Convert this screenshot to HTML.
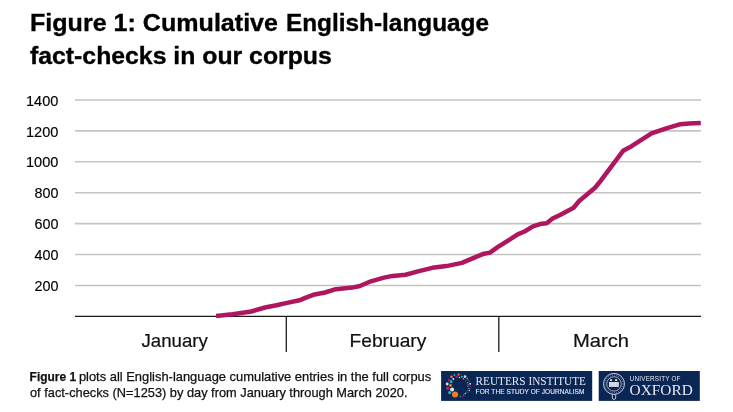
<!DOCTYPE html>
<html><head><meta charset="utf-8">
<style>
html,body{margin:0;padding:0;background:#fff;width:733px;height:412px;overflow:hidden}
svg{display:block;will-change:transform}
text{font-family:"Liberation Sans",sans-serif}
</style></head>
<body>
<svg width="733" height="412" viewBox="0 0 733 412">
<rect width="733" height="412" fill="#fff"/>
<!-- title -->
<g fill="#000" stroke="#000" stroke-width="0.35" style="font-weight:bold;font-size:24.8px">
<text x="30" y="31" textLength="248" lengthAdjust="spacingAndGlyphs">Figure 1: Cumulative</text>
<text x="286" y="31" textLength="203" lengthAdjust="spacingAndGlyphs">English-language</text>
<text x="30" y="63.5">fact-checks in our corpus</text>
</g>
<!-- gridlines -->
<g stroke="#c4c4c4" stroke-width="1.6">
<line x1="75" x2="701" y1="100" y2="100"/>
<line x1="75" x2="701" y1="130.9" y2="130.9"/>
<line x1="75" x2="701" y1="161.8" y2="161.8"/>
<line x1="75" x2="701" y1="192.7" y2="192.7"/>
<line x1="75" x2="701" y1="223.6" y2="223.6"/>
<line x1="75" x2="701" y1="254.5" y2="254.5"/>
<line x1="75" x2="701" y1="285.5" y2="285.5"/>
</g>
<g fill="#000" stroke="#000" stroke-width="0.15" style="font-size:15.3px" text-anchor="end">
<text x="58.4" y="105.6" textLength="32.4" lengthAdjust="spacingAndGlyphs">1400</text>
<text x="58.4" y="136.5" textLength="32.4" lengthAdjust="spacingAndGlyphs">1200</text>
<text x="58.4" y="167.4" textLength="32.4" lengthAdjust="spacingAndGlyphs">1000</text>
<text x="58.4" y="198.3" textLength="23.9" lengthAdjust="spacingAndGlyphs">800</text>
<text x="58.4" y="229.2" textLength="23.9" lengthAdjust="spacingAndGlyphs">600</text>
<text x="58.4" y="260.1" textLength="23.9" lengthAdjust="spacingAndGlyphs">400</text>
<text x="58.4" y="291.0" textLength="23.9" lengthAdjust="spacingAndGlyphs">200</text>
</g>
<!-- axis -->
<g stroke="#1a1a1a" stroke-width="1.3">
<line x1="75" x2="701" y1="316.3" y2="316.3"/>
<line x1="286.3" x2="286.3" y1="316" y2="352"/>
<line x1="498.8" x2="498.8" y1="316" y2="352"/>
</g>
<g fill="#111" stroke="#111" stroke-width="0.2" style="font-size:18.5px">
<text x="141.5" y="346.6" textLength="66.4" lengthAdjust="spacingAndGlyphs">January</text>
<text x="349.5" y="346.6" textLength="76.8" lengthAdjust="spacingAndGlyphs">February</text>
<text x="573" y="346.6" textLength="56" lengthAdjust="spacingAndGlyphs">March</text>
</g>
<!-- data line -->
<polyline fill="none" stroke="#ae1760" stroke-width="4.5" stroke-linejoin="round" points="216.1,315.9 232.5,314.3 251.3,311.5 265,307.5 276.5,305.3 287.1,302.9 299.4,300.3 305.9,297.6 313.3,294.8 325,292.5 335.9,289.2 352.3,287.6 359.9,286.0 370.9,281.3 384,277.6 392.7,275.9 405.5,274.7 418,271.4 434.3,267.4 446.4,266.1 461.9,262.9 475.5,257.1 484,253.7 489.9,252.6 497.6,247.1 509.2,239.9 517.7,234.4 524.5,231.5 533,226.3 541.5,223.7 546.6,223.2 552.6,218.5 560,214.9 573.6,207.7 579.4,200.8 584.3,196.8 595,187.7 600.8,180.7 604.7,175.4 612.2,165.4 623.1,150.8 631.6,146.2 651.5,133.4 665.5,128.6 680.5,124.2 689,123.4 700.8,123.0"/>
<!-- caption -->
<g fill="#111" stroke="#111" stroke-width="0.25" style="font-size:12.7px">
<text x="29.6" y="380.6" style="font-weight:bold" textLength="46.5" lengthAdjust="spacingAndGlyphs">Figure 1</text>
<text x="78.9" y="380.6" textLength="352.3" lengthAdjust="spacingAndGlyphs">plots all English-language cumulative entries in the full corpus</text>
<text x="30" y="396.9" textLength="377.5" lengthAdjust="spacingAndGlyphs">of fact-checks (N=1253) by day from January through March 2020.</text>
</g>
<!-- reuters logo -->
<rect x="441.1" y="371" width="151.1" height="29.9" fill="#0a2654"/>
<g>
<circle cx="455.1" cy="394.5" r="3.06" fill="#f27b22"/>
<circle cx="452.1" cy="389.4" r="2.0" fill="#e6e3ee"/>
<circle cx="447.8" cy="388.3" r="1.75" fill="#c9185f"/>
<circle cx="449.7" cy="392.6" r="1.6" fill="#21b4cc"/>
<circle cx="450.5" cy="385.4" r="1.45" fill="#f27b22"/>
<circle cx="447.2" cy="384" r="1.45" fill="#e6e3ee"/>
<circle cx="451.1" cy="381.7" r="1.45" fill="#21b4cc"/>
<circle cx="448.9" cy="379.9" r="1.1" fill="#c9185f"/>
<circle cx="453.3" cy="379" r="0.9" fill="#e6e3ee"/>
<circle cx="451.5" cy="376.8" r="1.25" fill="#f27b22"/>
<circle cx="456.6" cy="376.7" r="1.1" fill="#c9185f"/>
<circle cx="454.4" cy="375" r="0.9" fill="#21b4cc"/>
<circle cx="458.6" cy="374.6" r="1.1" fill="#f27b22"/>
<circle cx="461.5" cy="374.5" r="0.6" fill="#c9185f"/>
<circle cx="459.5" cy="377.4" r="0.7" fill="#e6e3ee"/>
<circle cx="461.8" cy="376.8" r="1.0" fill="#21b4cc"/>
<circle cx="465" cy="376.5" r="1.25" fill="#e6e3ee"/>
<circle cx="463.5" cy="378.7" r="0.9" fill="#f27b22"/>
<circle cx="467.1" cy="378.3" r="0.9" fill="#21b4cc"/>
<circle cx="465.7" cy="380.8" r="0.7" fill="#c9185f"/>
<circle cx="468.4" cy="380.1" r="0.65" fill="#f27b22"/>
<circle cx="467.5" cy="382.7" r="0.8" fill="#21b4cc"/>
<circle cx="469.6" cy="381.8" r="0.6" fill="#c9185f"/>
<circle cx="470.1" cy="383.8" r="0.9" fill="#e6e3ee"/>
<circle cx="468.2" cy="384.8" r="0.65" fill="#f27b22"/>
<circle cx="470.4" cy="386.5" r="0.6" fill="#c9185f"/>
<circle cx="467.9" cy="386.3" r="0.6" fill="#21b4cc"/>
<circle cx="468.6" cy="388.5" r="0.6" fill="#21b4cc"/>
<circle cx="469.7" cy="388.5" r="0.55" fill="#f27b22"/>
<circle cx="467.5" cy="390.3" r="0.65" fill="#c9185f"/>
<circle cx="469.3" cy="390.5" r="0.65" fill="#e6e3ee"/>
<circle cx="467.1" cy="392.1" r="0.6" fill="#f27b22"/>
<circle cx="465.3" cy="393.4" r="0.65" fill="#e6e3ee"/>
<circle cx="463.9" cy="395" r="0.75" fill="#21b4cc"/>
<circle cx="462.4" cy="396.5" r="0.6" fill="#c9185f"/>
<circle cx="460.2" cy="396.5" r="0.65" fill="#21b4cc"/>
</g>
<text x="475.6" y="384.6" style="font-family:'Liberation Serif',serif;font-size:11.6px" textLength="110.3" lengthAdjust="spacingAndGlyphs" fill="#e8e8ee">REUTERS INSTITUTE</text>
<text x="475.6" y="394.3" style="font-size:6.5px" textLength="108.8" lengthAdjust="spacing" fill="#e8e8ee" stroke="#e8e8ee" stroke-width="0.12">FOR THE STUDY OF JOURNALISM</text>
<!-- oxford logo -->
<rect x="598.7" y="371" width="101.1" height="29.9" fill="#0a2654"/>
<g fill="none" stroke="#d8dde6">
<circle cx="614" cy="383.9" r="10.5" stroke-width="0.9"/>
<circle cx="614" cy="383.9" r="7.2" stroke-width="0.7"/>
<circle cx="614" cy="383.9" r="8.9" stroke-width="1.5" stroke-dasharray="0.8 1.4" stroke-opacity="0.45"/>
<path d="M612.3 394.2 v3.5 a1.7 1.7 0 0 0 3.4 0 v-3.5" stroke-width="0.9"/>
</g>
<rect x="609" y="382" width="9.8" height="4.9" fill="#dfe3ea"/>
<path d="M613.9 382 v4.9 M611 382.5 v3.8 M616.8 382.5 v3.8" stroke="#9aa6b8" stroke-width="0.5"/>
<path d="M610 381 l0.3 -2.3 l0.8 0.9 l0.8 -0.9 l0.3 2.3 z M615 381 l0.3 -2.3 l0.8 0.9 l0.8 -0.9 l0.3 2.3 z" fill="#dfe3ea"/>
<text x="629.8" y="381.2" style="font-size:6.3px" textLength="50.6" fill="#e8e8ee">UNIVERSITY OF</text>
<text x="629.6" y="395" style="font-family:'Liberation Serif',serif;font-size:14px" textLength="63.2" lengthAdjust="spacingAndGlyphs" fill="#e8e8ee">OXFORD</text>
</svg>
</body></html>
